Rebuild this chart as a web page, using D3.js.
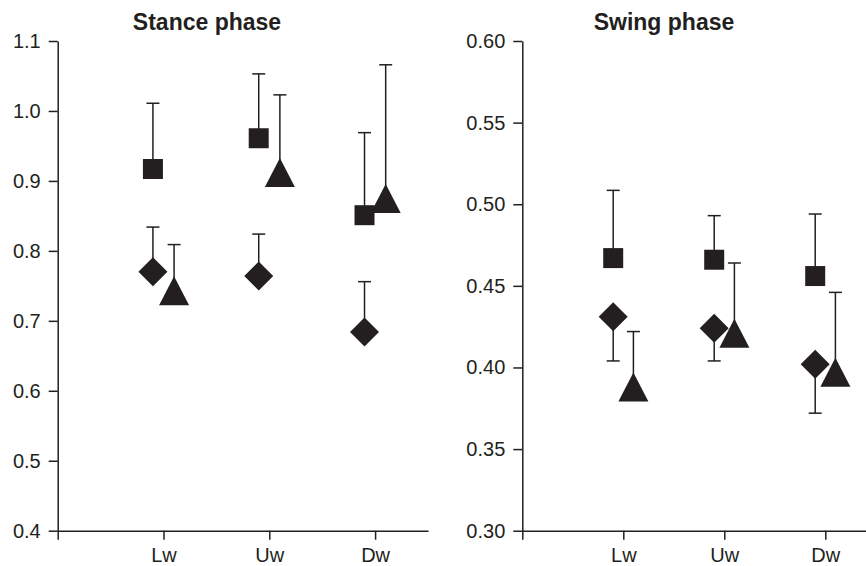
<!DOCTYPE html>
<html>
<head>
<meta charset="utf-8">
<script src="https://cdn.jsdelivr.net/npm/d3@7"></script>
<style>
  html, body { margin: 0; padding: 0; background: #fff; }
  svg { display: block; font-family: "Liberation Sans", Arial, Helvetica, sans-serif; }
</style>
</head>
<body>
<svg id="chart" width="866" height="566"></svg>
<script>
// ---------- data ----------
const categories = ["Lw", "Uw", "Dw"];

// Stance phase
const stanceTicks = [0.4, 0.5, 0.6, 0.7, 0.8, 0.9, 1.0, 1.1];
const stanceSquare = [0.917, 0.961, 0.851];
const stanceSquareBar = [1.011, 1.053, 0.969];
const stanceDiamond = [0.770, 0.764, 0.684];
const stanceDiamondBar = [0.834, 0.824, 0.756];
const stanceTriangle = [0.743, 0.912, 0.875];
const stanceTriangleBar = [0.809, 1.023, 1.066];

// Swing phase
const swingTicks = [0.30, 0.35, 0.40, 0.45, 0.50, 0.55, 0.60];
const swingSquare = [0.467, 0.466, 0.456];
const swingSquareBar = [0.5085, 0.493, 0.494];
const swingDiamond = [0.431, 0.424, 0.402];
const swingDiamondBar = [0.404, 0.404, 0.372];
const swingTriangle = [0.388, 0.421, 0.397];
const swingTriangleBar = [0.422, 0.464, 0.446];

// ---------- drawing ----------
const INK = "#231f20";
const svg = d3.select("#chart");

function shapePath(type, cx, cy) {
  if (type === "square") {
    const h = 10;
    return `M${cx - h},${cy - h}H${cx + h}V${cy + h}H${cx - h}Z`;
  }
  if (type === "diamond") {
    const r = 14.5;
    return `M${cx},${cy - r}L${cx + r},${cy}L${cx},${cy + r}L${cx - r},${cy}Z`;
  }
  // triangle
  const w = 15, h = 14.5;
  return `M${cx},${cy - h}L${cx + w},${cy + h}L${cx - w},${cy + h}Z`;
}

function panel(cfg) {
  const g = svg.append("g");
  const x = d3.scaleLinear().domain([0, cfg.xMax]).range([cfg.x0, cfg.x1]);
  const y = d3.scaleLinear().domain([cfg.ticks[0], cfg.ticks[cfg.ticks.length - 1]]).range([cfg.yBottom, cfg.yTop]);

  const yAxis = d3.axisLeft(y).tickValues(cfg.ticks).tickFormat(d3.format(cfg.fmt)).tickSize(9).tickPadding(8).tickSizeOuter(0);
  const xAxis = d3.axisBottom(x).tickValues([0, 1, 2, 3]).tickFormat(d => d === 0 ? "" : categories[d - 1]).tickSize(9).tickPadding(8.5).tickSizeOuter(0);

  const ya = g.append("g").attr("transform", `translate(${cfg.x0},0)`).call(yAxis);
  const xa = g.append("g").attr("transform", `translate(0,${cfg.yBottom})`).call(xAxis);
  [ya, xa].forEach(a => {
    a.selectAll("path.domain").attr("stroke", INK).attr("stroke-width", 1.5);
    a.selectAll(".tick line").attr("stroke", INK).attr("stroke-width", 1.5);
    a.selectAll(".tick text").attr("fill", INK).attr("font-size", 20).attr("font-family", "'Liberation Sans', Arial, sans-serif");
  });

  g.append("text")
    .attr("x", cfg.titleX).attr("y", 30)
    .attr("text-anchor", "middle")
    .attr("font-size", 23).attr("font-weight", "bold").attr("fill", INK)
    .text(cfg.title);

  const series = cfg.series;
  // error bars
  series.forEach(s => {
    s.mean.forEach((m, i) => {
      const cx = x(i + 1 + s.off);
      const yEnd = y(s.bar[i]);
      g.append("line").attr("x1", cx).attr("x2", cx).attr("y1", y(m)).attr("y2", yEnd)
        .attr("stroke", INK).attr("stroke-width", 1.5);
      g.append("line").attr("x1", cx - 6.5).attr("x2", cx + 6.5).attr("y1", yEnd).attr("y2", yEnd)
        .attr("stroke", INK).attr("stroke-width", 1.5);
    });
  });
  // markers
  series.forEach(s => {
    g.selectAll(null).data(s.mean).enter().append("path")
      .attr("d", (m, i) => shapePath(s.type, x(i + 1 + s.off), y(m)))
      .attr("fill", INK);
  });
}

panel({
  title: "Stance phase", titleX: 207,
  x0: 57.7, x1: 428, xMax: 3.5,
  yTop: 41, yBottom: 530.7,
  ticks: stanceTicks, fmt: ".1f",
  series: [
    { type: "square", off: -0.1, mean: stanceSquare, bar: stanceSquareBar },
    { type: "diamond", off: -0.1, mean: stanceDiamond, bar: stanceDiamondBar },
    { type: "triangle", off: 0.1, mean: stanceTriangle, bar: stanceTriangleBar }
  ]
});

panel({
  title: "Swing phase", titleX: 664,
  x0: 522.3, x1: 865.7, xMax: 3.4,
  yTop: 41, yBottom: 530.7,
  ticks: swingTicks, fmt: ".2f",
  series: [
    { type: "square", off: -0.1, mean: swingSquare, bar: swingSquareBar },
    { type: "diamond", off: -0.1, mean: swingDiamond, bar: swingDiamondBar },
    { type: "triangle", off: 0.1, mean: swingTriangle, bar: swingTriangleBar }
  ]
});
</script>
</body>
</html>
